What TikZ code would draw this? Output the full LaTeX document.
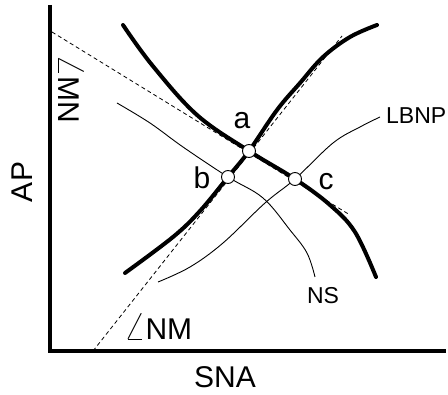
\documentclass[tikz,border=0pt]{standalone}
\usepackage{fontspec}
\setmainfont{Liberation Sans}
\usepackage{amsmath}

\newcommand{\bigangle}{\scalebox{1.35}{$\angle$}}

\begin{document}
\begin{tikzpicture}[
  x=1pt, y=-1pt,
  axisline/.style={line width=4pt},
  thickcurve/.style={line width=4pt, line cap=round},
  thincurve/.style={line width=0.9pt},
  tangent/.style={line width=0.8pt, dash pattern=on 4pt off 3pt},
  point/.style={circle, draw, fill=white, line width=0.9pt, minimum size=13pt, inner sep=0pt},
  biglabel/.style={font=\fontsize{30}{34}\selectfont, inner sep=0pt},
  smalllabel/.style={font=\fontsize{23}{27}\selectfont, inner sep=0pt}
]
\useasboundingbox (0,0) rectangle (448,395);

% points where the curves cross
\coordinate (pa) at (249,151);
\coordinate (pb) at (228,177);
\coordinate (pc) at (295,179);

% tangent lines
\coordinate (t1) at (52,32);
\coordinate (t2) at (350,215);
\coordinate (t3) at (93,351);
\coordinate (t4) at (342,36);
\draw[tangent] (t1) -- (t2);
\draw[tangent] (t3) -- (t4);

% thin curves
\draw[thincurve] plot[smooth, tension=0.6] coordinates
  {(117,103) (150,123) (183,147) (pb) (263,198) (290,230) (307,253) (315,277)};
\draw[thincurve] plot[smooth, tension=0.6] coordinates
  {(158,282) (190,267) (223,243) (265,203) (pc) (333,143) (360,127) (380,117)};

% thick curves
\draw[thickcurve] plot[smooth, tension=0.6] coordinates
  {(123,25) (152,65) (197,115) (pa) (pc) (330,205) (355,232) (376,277)};
\draw[thickcurve] plot[smooth, tension=0.6] coordinates
  {(125,273) (173,237) (200,211) (pb) (pa) (277,110) (300,83) (323,57) (350,37) (377,25)};

% axes
\coordinate (origin) at (50,351);
\coordinate (ytop) at (50,5);
\coordinate (xend) at (446,351);
\draw[axisline] (ytop) -- (origin) -- (xend);

% crossing points
\node[point] (a) at (pa) {};
\node[point] (b) at (pb) {};
\node[point] (c) at (pc) {};

% labels
\node[biglabel] (la) at (242,121) {a};
\node[biglabel] (lb) at (202,178) {b};
\node[biglabel] (lc) at (326,182) {c};
\node[smalllabel, anchor=west] (lbnp) at (386,116) {LBNP};
\node[smalllabel] (ns) at (323,296) {NS};
\node[biglabel] (nm) at (158,327) {\bigangle NM};
\node[biglabel, rotate=-90] (mn) at (71,89) {\bigangle MN};
\node[biglabel, rotate=90] (ap) at (22,182) {AP};
\node[biglabel] (sna) at (225,377) {SNA};
\end{tikzpicture}
\end{document}
